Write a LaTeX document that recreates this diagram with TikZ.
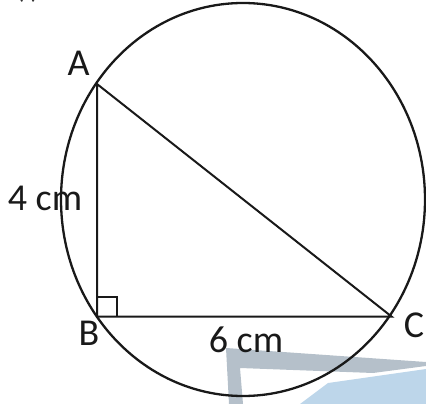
\documentclass[tikz,border=0pt]{standalone}
\usepackage{fontspec}
\setmainfont{Carlito}
\definecolor{wmgray}{HTML}{B5C0CA}
\definecolor{wmblue}{HTML}{BDD6EA}
\tikzset{
  geo/.style={line width=2.3pt, draw=black!90},
  lab/.style={font=\fontsize{38}{40}\selectfont, anchor=base, inner sep=0pt, text=black!90},
}
\begin{document}
\begin{tikzpicture}[x=1pt, y=-1pt]
\useasboundingbox (0,0) rectangle (426,404);
\clip (0,0) rectangle (426,404);
% faint watermark
\fill[wmgray] (226,348) -- (426,362) -- (426,366) -- (373,373) -- (240,368) -- (243,404) -- (229,404) -- cycle;
\fill[wmblue] (300,404) -- (328,383) -- (426,369) -- (426,404) -- cycle;
% cut-off label at top
\node[font=\fontsize{28}{30}\selectfont, anchor=base, inner sep=0pt, text=black!80] (lbl) at (27.5,-1.5) {(i)};
% points
\coordinate (O) at (243,199.5);
\coordinate (A) at (97,84);
\coordinate (B) at (97,316.5);
\coordinate (C) at (391.5,316.5);
\coordinate (R1) at (97,296.5);
\coordinate (R2) at (117,296.5);
\coordinate (R3) at (117,316.5);
% circle
\draw[geo] (O) ellipse[x radius=182, y radius=196.5];
% triangle
\draw[geo, line width=2pt] (A) -- (B) -- (C) -- cycle;
\draw[geo, line width=2pt] (R1) -- (R2) -- (R3);
% labels
\node[lab] (la) at (78.5,76) {A};
\node[lab] (lb) at (89,345) {B};
\node[lab] (lc) at (414,337) {C};
\node[lab] (l4) at (45,210) {4 cm};
\node[lab] (l6) at (246,352) {6 cm};
\end{tikzpicture}
\end{document}
